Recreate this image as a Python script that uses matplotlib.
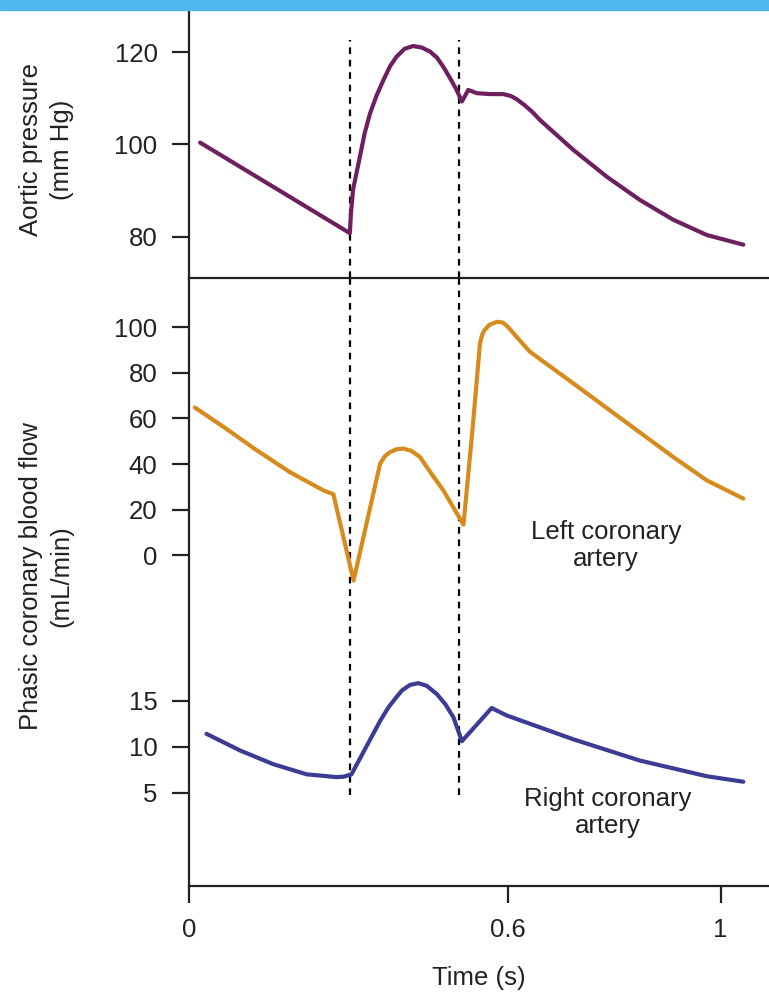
import matplotlib
matplotlib.use("Agg")
import matplotlib.pyplot as plt
from matplotlib.patches import Rectangle

plt.rcParams['font.family'] = ['Liberation Sans', 'DejaVu Sans']

# ============ data ============
# aortic pressure (mm Hg)
t_aortic = [0.020, 0.302, 0.304, 0.308, 0.321, 0.330, 0.340, 0.352, 0.365, 0.378,
            0.390, 0.405, 0.421, 0.437, 0.453, 0.466, 0.478, 0.490, 0.503, 0.513,
            0.525, 0.541, 0.566, 0.591, 0.605, 0.616, 0.630, 0.645, 0.660, 0.723,
            0.786, 0.848, 0.911, 0.974, 1.043]
p_aortic = [100.4, 80.8, 85.0, 90.2, 97.4, 102.5, 106.7, 110.5, 113.9, 117.0,
            119.0, 120.7, 121.3, 121.0, 120.1, 118.8, 116.8, 114.5, 111.8, 109.3,
            111.8, 111.1, 110.9, 110.9, 110.5, 109.8, 108.6, 107.1, 105.3, 98.8,
            93.0, 88.0, 83.7, 80.4, 78.3]

# left coronary flow (mL/min)
t_left = [0.010, 0.064, 0.127, 0.189, 0.252, 0.271, 0.309, 0.359, 0.368, 0.378,
          0.390, 0.403, 0.418, 0.434, 0.455, 0.478, 0.516, 0.534, 0.547, 0.551,
          0.555, 0.565, 0.579, 0.590, 0.600, 0.616, 0.641, 0.723, 0.817, 0.911,
          0.974, 1.043]
f_left = [64.8, 56.3, 46.0, 36.5, 28.5, 26.8, -11.0, 40.2, 43.5, 45.3,
          46.5, 46.8, 45.8, 43.1, 36.0, 28.5, 13.5, 57.8, 92.8, 96.5,
          98.5, 101.0, 102.3, 102.0, 100.0, 95.7, 89.2, 75.3, 59.2, 43.1,
          32.9, 24.9]

# right coronary flow (mL/min)
t_right = [0.032, 0.095, 0.158, 0.221, 0.250, 0.277, 0.290, 0.305, 0.346, 0.360,
           0.375, 0.390, 0.400, 0.415, 0.431, 0.447, 0.466, 0.482, 0.497, 0.513,
           0.569, 0.597, 0.723, 0.848, 0.974, 1.043]
f_right = [11.4, 9.6, 8.1, 7.0, 6.85, 6.7, 6.75, 7.0, 11.4, 12.9,
           14.3, 15.4, 16.1, 16.7, 16.9, 16.6, 15.7, 14.6, 13.2, 10.6,
           14.2, 13.4, 10.8, 8.5, 6.8, 6.2]

event_times = [0.302, 0.508]

x_ticks = [0, 0.6, 1]
x_ticklabels = ["0", "0.6", "1"]
p_ticks = [80, 100, 120]
left_ticks = [0, 20, 40, 60, 80, 100]
right_ticks = [5, 10, 15]

# ============ style ============
TXT = "#222222"
PURPLE = "#6e1f5f"
ORANGE = "#d68b1c"
BLUE = "#3c3c94"
FS = 18.5
LW = 3.0

fig = plt.figure(figsize=(7.69, 9.92), dpi=100)
fig.patches.append(Rectangle((0, 0.9899), 1, 0.0101, transform=fig.transFigure,
                             color="#4db7ef", zorder=0))

left, width = 0.2464, 0.7536
ax_l = fig.add_axes([left, 0.1069, width, 0.6129])
ax_r = fig.add_axes([left, 0.1069, width, 0.6129])
ax_p = fig.add_axes([left, 0.7198, width, 0.2701])
for a in (ax_l, ax_r, ax_p):
    a.patch.set_visible(False)

xmax = 1.0913


def style(ax):
    ax.set_xlim(0, xmax)
    for s in ["top", "right"]:
        ax.spines[s].set_visible(False)
    for s in ["left", "bottom"]:
        ax.spines[s].set_linewidth(1.6)
        ax.spines[s].set_color(TXT)
    ax.tick_params(axis="both", direction="out", length=12, width=1.6, color=TXT,
                   labelsize=FS, labelcolor=TXT)
    ax.tick_params(axis="y", pad=11)
    ax.tick_params(axis="x", pad=11)


# top panel: aortic pressure
style(ax_p)
ax_p.set_ylim(71.1, 129.1)
ax_p.set_yticks(p_ticks)
ax_p.set_xticks([])
ax_p.plot(t_aortic, p_aortic, color=PURPLE, lw=LW, solid_joinstyle="round",
          solid_capstyle="round", zorder=3)
ax_p.set_ylabel("Aortic pressure\n(mm Hg)", fontsize=FS, color=TXT, linespacing=1.35)
ax_p.yaxis.set_label_coords(-0.200, 0.478)

# bottom panel: left coronary
style(ax_l)
ax_l.set_ylim(-144.7, 121.5)
ax_l.set_yticks(left_ticks)
ax_l.set_xticks(x_ticks)
ax_l.set_xticklabels(x_ticklabels)
ax_l.plot(t_left, f_left, color=ORANGE, lw=LW, solid_joinstyle="round",
          solid_capstyle="round", zorder=3)
ax_l.set_xlabel("Time (s)", fontsize=FS, color=TXT, labelpad=17)
ax_l.set_ylabel("Phasic coronary blood flow\n(mL/min)", fontsize=FS, color=TXT,
                linespacing=1.35)
ax_l.yaxis.set_label_coords(-0.200, 0.51)
ax_l.text(0.784, 4.4, "Left coronary\nartery", ha="center", va="center",
          fontsize=FS, color=TXT, linespacing=1.15)

# bottom panel: right coronary (own y scale)
style(ax_r)
for s in ["left", "bottom"]:
    ax_r.spines[s].set_visible(False)
ax_r.set_ylim(-5.11, 60.87)
ax_r.set_yticks(right_ticks)
ax_r.set_xticks([])
ax_r.plot(t_right, f_right, color=BLUE, lw=LW, solid_joinstyle="round",
          solid_capstyle="round", zorder=3)
ax_r.text(0.788, 2.83, "Right coronary\nartery", ha="center", va="center",
          fontsize=FS, color=TXT, linespacing=1.15)

# dashed event lines across both panels
for t in event_times:
    ax_p.axvline(t, ymin=0, ymax=0.888, color="black", lw=1.6, ls=(0, (3, 2.6)), zorder=2)
    ax_l.axvline(t, ymin=0.15, ymax=1, color="black", lw=1.6, ls=(0, (3, 2.6)), zorder=2)

fig.savefig("out.png", dpi=100, facecolor="white")
